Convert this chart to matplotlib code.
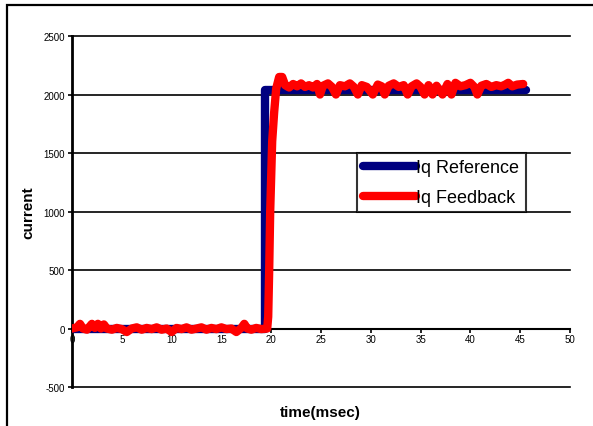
import matplotlib
matplotlib.use("Agg")
import matplotlib.pyplot as plt
from matplotlib.patches import Rectangle

plt.rcParams['font.family'] = ['Liberation Sans', 'DejaVu Sans']
plt.rcParams['axes.unicode_minus'] = False

# Iq reference (step)
ref_t = [0.0, 19.4, 19.4, 45.6]
ref_v = [0, 0, 2040, 2040]

# Iq feedback
fb_t = [0.0, 0.5, 0.8, 1.1, 1.5, 2.0, 2.3, 2.6, 2.9, 3.2, 3.5, 4.0, 4.5, 5.0,
        5.5, 6.0, 6.5, 7.0, 7.5, 8.0, 8.5, 9.0, 9.5, 10.0, 10.5, 11.0, 11.5,
        12.0, 12.5, 13.0, 13.5, 14.0, 14.5, 15.0, 15.5, 16.0, 16.5, 17.0,
        17.3, 17.6, 18.0, 18.5, 19.0, 19.6, 19.7, 19.8, 19.9, 20.0, 20.1,
        20.3, 20.5, 20.8, 21.1, 21.4, 21.8, 22.2, 22.6, 23.0, 23.4, 23.8,
        24.2, 24.6, 24.9, 25.2, 25.7, 26.1, 26.5, 26.9, 27.4, 27.9, 28.3,
        28.7, 29.1, 29.6, 30.2, 30.7, 31.1, 31.4, 31.8, 32.3, 32.8, 33.3,
        33.7, 34.1, 34.6, 35.0, 35.4, 35.8, 36.2, 36.6, 37.2, 37.7, 38.1,
        38.5, 39.0, 39.5, 40.0, 40.4, 40.7, 41.1, 41.6, 42.1, 42.6, 43.1,
        43.5, 43.8, 44.2, 44.7, 45.3]
fb_v = [0, 10, 40, 0, -10, 40, 5, 40, 0, 35, 0, -10, 5, -5,
        -30, 0, 10, -10, 5, -5, 10, -10, 0, -30, 5, -5, 10,
        -10, 0, 10, -10, 5, -5, 10, -5, 0, -30, 5,
        40, 0, -10, 5, -5, 0, 100, 500, 1000, 1300, 1600,
        1850, 2050, 2150, 2150, 2080, 2060, 2090, 2070, 2095, 2065, 2080,
        2060, 2090, 2000, 2075, 2095, 2065, 2000, 2080, 2070, 2095, 2065,
        2000, 2080, 2065, 2000, 2085, 2070, 2000, 2075, 2095, 2065, 2080,
        2000, 2070, 2095, 2065, 2000, 2080, 2000, 2075, 2000, 2090, 2000,
        2100, 2070, 2080, 2100, 2065, 2000, 2075, 2090, 2065, 2080, 2070,
        2085, 2100, 2070, 2085, 2090]

y_ticks = [-500, 0, 500, 1000, 1500, 2000, 2500]
x_ticks = [0, 5, 10, 15, 20, 25, 30, 35, 40, 45, 50]

fig = plt.figure(figsize=(5.93, 4.27), dpi=100)
ax = fig.add_axes([0.1214, 0.0913, 0.8398, 0.822])

# horizontal grid, drawn unclipped so the -500 line shows fully
for yv in y_ticks:
    ax.axhline(yv, color='black', lw=1.2, zorder=1, clip_on=False)

ax.plot(ref_t, ref_v, color='#000080', lw=6, solid_capstyle='round',
        solid_joinstyle='round', label='Iq Reference', zorder=3)
ax.plot(fb_t, fb_v, color='#ff0000', lw=6, solid_capstyle='round',
        solid_joinstyle='round', label='Iq Feedback', zorder=4)

ax.set_xlim(0, 50)
ax.set_ylim(-500, 2500)
ax.set_xticks(x_ticks)
ax.set_yticks(y_ticks)
ax.tick_params(axis='both', labelsize=7, length=3, width=1.2, direction='out', pad=2)
ax.tick_params(axis='x', pad=1)

ax.spines['top'].set_visible(False)
ax.spines['right'].set_visible(False)
ax.spines['bottom'].set_position(('data', 0))
ax.spines['bottom'].set_linewidth(1.5)
ax.spines['left'].set_linewidth(2)

ax.set_ylabel('current', fontsize=11, fontweight='bold', labelpad=6)
fig.text(0.54, 0.033, 'time(msec)', fontsize=11, fontweight='bold', ha='center', va='center')

leg = ax.legend(loc='upper left', bbox_to_anchor=(0.572, 0.6667), fontsize=13,
                frameon=True, fancybox=False, handlelength=2.9, handletextpad=0.05,
                borderpad=0.35, labelspacing=0.7, borderaxespad=0)
leg.get_frame().set_edgecolor('black')
leg.get_frame().set_linewidth(1.5)
leg.set_zorder(5)

# outer chart border, running off the right and bottom edges
fig.patches.append(Rectangle((0.0118, -0.2), 1.5, 0.986 + 0.2, transform=fig.transFigure,
                             fill=False, edgecolor='black', lw=1.6))

fig.savefig('out.png', dpi=100)
